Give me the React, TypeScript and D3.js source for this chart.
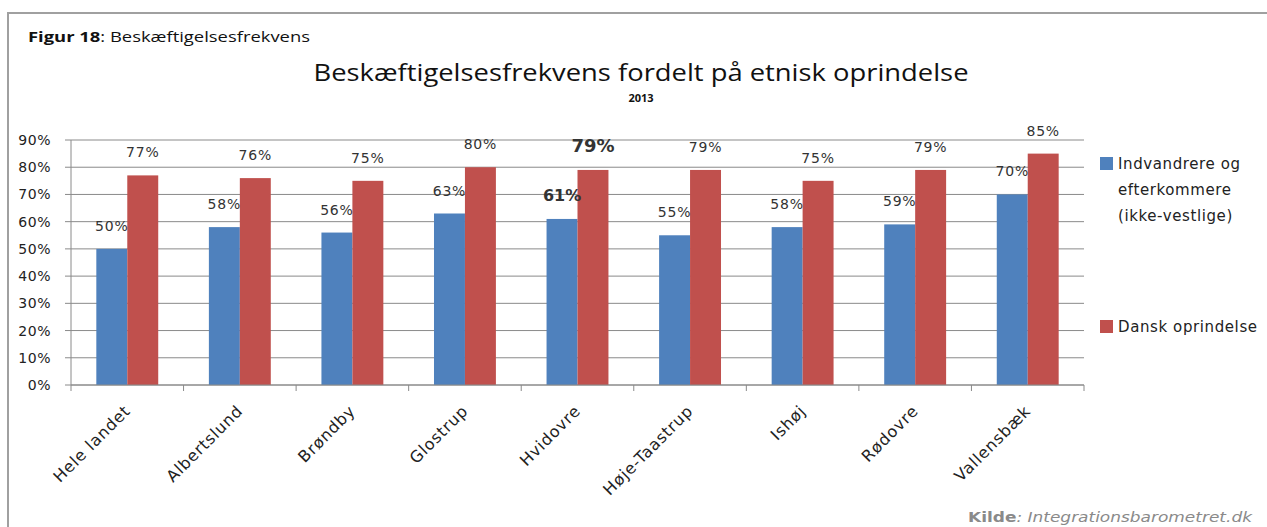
import React from "react";
import * as d3 from "d3";

const categories = ["Hele landet", "Albertslund", "Brøndby", "Glostrup", "Hvidovre", "Høje-Taastrup", "Ishøj", "Rødovre", "Vallensbæk"];
const indvandrere = [50, 58, 56, 63, 61, 55, 58, 59, 70];
const dansk = [77, 76, 75, 80, 79, 79, 75, 79, 85];
const yTicks = [0, 10, 20, 30, 40, 50, 60, 70, 80, 90];
const seriesNames = ["Indvandrere og efterkommere (ikke-vestlige)", "Dansk oprindelse"];
const highlightCategory = "Hvidovre";

const W = 1267;
const H = 527;
const plot = { left: 71, right: 1084, top: 140, bottom: 385 };
const blue = "#4f81bd";
const red = "#c0504d";
const font = "'DejaVu Sans', Verdana, sans-serif";
const titleFont = "'Open Sans', 'Liberation Sans', sans-serif";

export default function App() {
  const x = d3.scaleBand<string>().domain(categories).range([plot.left, plot.right]).paddingInner(0).paddingOuter(0);
  const y = d3.scaleLinear().domain([0, 90]).range([plot.bottom, plot.top]);
  const bw = x.bandwidth();
  const barW = bw * 0.275;
  const series = [
    { name: seriesNames[0], values: indvandrere, color: blue, offset: -barW },
    { name: seriesNames[1], values: dansk, color: red, offset: 0 },
  ];

  return (
    <div style={{ position: "fixed", left: 0, top: 0, width: W, height: H, overflow: "hidden", background: "#fff" }}>
      <svg width={W} height={H} style={{ display: "block" }}>
        <rect x={0} y={0} width={W} height={H} fill="#fff" />
        <rect x={8} y={13} width={W + 20} height={H + 20} fill="none" stroke="#a0a0a0" strokeWidth={2} />
        <text x={28} y={42} fontFamily={titleFont} fontSize={14} fill="#111" textLength={282} lengthAdjust="spacingAndGlyphs">
          <tspan fontWeight="bold">Figur 18</tspan>: Beskæftigelsesfrekvens
        </text>
        <text x={641} y={81} textAnchor="middle" fontFamily={titleFont} fontSize={24} fill="#111" textLength={655} lengthAdjust="spacingAndGlyphs">
          Beskæftigelsesfrekvens fordelt på etnisk oprindelse
        </text>
        <text x={641} y={102} textAnchor="middle" fontFamily={titleFont} fontSize={11} fontWeight="bold" fill="#111">
          2013
        </text>

        {/* gridlines */}
        {yTicks.map((t) => (
          <line key={"g" + t} x1={plot.left} x2={plot.right} y1={y(t)} y2={y(t)} stroke="#8a8a8a" strokeWidth={1} />
        ))}
        {/* y axis */}
        <line x1={plot.left} x2={plot.left} y1={plot.top} y2={plot.bottom} stroke="#8a8a8a" />
        {yTicks.map((t) => (
          <g key={"yt" + t}>
            <line x1={plot.left - 6} x2={plot.left} y1={y(t)} y2={y(t)} stroke="#8a8a8a" />
            <text x={51} y={y(t) + 5} textAnchor="end" fontFamily={font} fontSize={14} fill="#222" letterSpacing={0.5}>
              {t}%
            </text>
          </g>
        ))}

        {/* bars */}
        {series.map((s) =>
          categories.map((c, i) => {
            const cx = (x(c) as number) + bw / 2;
            return (
              <rect key={s.name + c} x={cx + s.offset} y={y(s.values[i])} width={barW} height={plot.bottom - y(s.values[i])} fill={s.color} />
            );
          })
        )}

        {/* x axis */}
        <line x1={plot.left} x2={plot.right} y1={plot.bottom} y2={plot.bottom} stroke="#8a8a8a" />
        {d3.range(categories.length + 1).map((i) => {
          const xx = plot.left + i * bw;
          return <line key={"xt" + i} x1={xx} x2={xx} y1={plot.bottom} y2={plot.bottom + 6} stroke="#8a8a8a" />;
        })}
        {categories.map((c) => {
          const cx = (x(c) as number) + bw / 2 + 4;
          const ty = plot.bottom + 27;
          return (
            <text key={"xl" + c} x={cx} y={ty} transform={`rotate(-45 ${cx} ${ty})`} textAnchor="end" fontFamily={font} fontSize={16} fill="#222" letterSpacing={0.8}>
              {c}
            </text>
          );
        })}

        {/* data labels */}
        {series.map((s, si) =>
          categories.map((c, i) => {
            const cx = (x(c) as number) + bw / 2 + s.offset + barW / 2;
            const hl = c === highlightCategory;
            const fs = hl ? (si === 1 ? 18 : 16) : 14;
            return (
              <text key={"dl" + s.name + c} x={cx} y={y(s.values[i]) - 18} textAnchor="middle" fontFamily={font} fontSize={fs} fontWeight={hl ? "bold" : "normal"} fill="#333" letterSpacing={hl ? 0 : 0.8}>
                {s.values[i]}%
              </text>
            );
          })
        )}

        {/* legend */}
        <rect x={1100} y={157} width={13} height={13} fill={blue} />
        <text fontFamily={font} fontSize={15} fill="#222" letterSpacing={0.6}>
          <tspan x={1118} y={169}>Indvandrere og</tspan>
          <tspan x={1118} y={195}>efterkommere</tspan>
          <tspan x={1118} y={221}>(ikke-vestlige)</tspan>
        </text>
        <rect x={1100} y={320} width={13} height={13} fill={red} />
        <text x={1118} y={332} fontFamily={font} fontSize={15} fill="#222" letterSpacing={0.6}>
          {seriesNames[1]}
        </text>

        {/* source */}
        <text x={968} y={522} fontFamily={font} fontSize={14} fill="#8a8a8a" textLength={284} lengthAdjust="spacingAndGlyphs">
          <tspan fontWeight="bold">Kilde</tspan>
          <tspan fontStyle="italic">: Integrationsbarometret.dk</tspan>
        </text>
      </svg>
    </div>
  );
}
